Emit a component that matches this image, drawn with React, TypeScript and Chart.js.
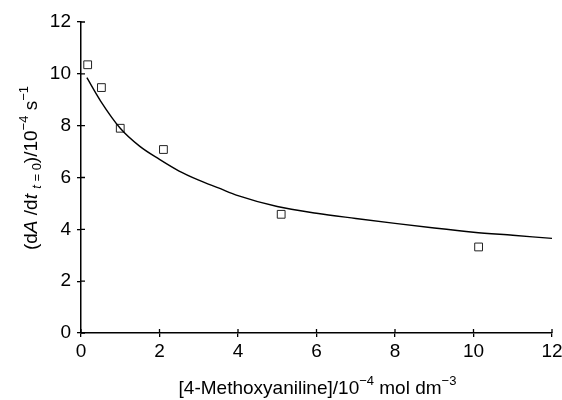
import React, { useEffect, useRef } from "react";
import { Chart, registerables } from "chart.js";

Chart.register(...registerables);

// Measured data points (open squares)
const pointX = [0.17, 0.52, 1.0, 2.1, 5.1, 10.13];
const pointY = [10.35, 9.47, 7.9, 7.08, 4.58, 3.32];

// Fitted curve
const curveX = [0.15, 0.5, 1, 1.5, 2, 2.5, 3, 3.5, 4, 5, 6, 7, 8, 9, 10, 11, 12];
const curveY = [9.85, 8.95, 7.9, 7.2, 6.7, 6.25, 5.9, 5.6, 5.3, 4.88, 4.62, 4.42, 4.23, 4.05, 3.89, 3.77, 3.65];

const xTicks = [0, 2, 4, 6, 8, 10, 12];
const yTicks = [0, 2, 4, 6, 8, 10, 12];

const FONT = "'Liberation Sans', Arial, Helvetica, sans-serif";

type Seg = { t: string; italic?: boolean; sup?: boolean; sub?: boolean };

const xTitle: Seg[] = [
  { t: "[4-Methoxyaniline]/10" },
  { t: "\u22124", sup: true },
  { t: " mol dm" },
  { t: "\u22123", sup: true },
];

const yTitle: Seg[] = [
  { t: "(d" },
  { t: "A", italic: true },
  { t: " /d" },
  { t: "t", italic: true },
  { t: " " },
  { t: "t", italic: true, sub: true },
  { t: " = 0", sub: true },
  { t: ")/10" },
  { t: "\u22124", sup: true },
  { t: " s" },
  { t: "\u22121", sup: true },
];

function segFont(s: Seg, base: number) {
  const size = s.sup || s.sub ? Math.round(base * 0.68) : base;
  return `${s.italic ? "italic " : ""}${size}px ${FONT}`;
}

function drawRich(ctx: CanvasRenderingContext2D, segs: Seg[], base: number) {
  let total = 0;
  for (const s of segs) {
    ctx.font = segFont(s, base);
    total += ctx.measureText(s.t).width;
  }
  let x = -total / 2;
  ctx.textAlign = "left";
  ctx.textBaseline = "alphabetic";
  for (const s of segs) {
    ctx.font = segFont(s, base);
    const dy = s.sup ? -base * 0.45 : s.sub ? base * 0.22 : 0;
    ctx.fillText(s.t, x, dy);
    x += ctx.measureText(s.t).width;
  }
}

const extrasPlugin = {
  id: "extras",
  afterDraw(chart: any) {
    const ctx: CanvasRenderingContext2D = chart.ctx;
    const xs = chart.scales.x;
    const ys = chart.scales.y;
    const area = chart.chartArea;
    ctx.save();
    ctx.strokeStyle = "#000";
    ctx.lineWidth = 1.3;
    // inner halves of tick marks
    ctx.beginPath();
    for (const v of xTicks) {
      const px = xs.getPixelForValue(v);
      ctx.moveTo(px, area.bottom);
      ctx.lineTo(px, area.bottom - 4);
    }
    for (const v of yTicks) {
      const py = ys.getPixelForValue(v);
      ctx.moveTo(area.left, py);
      ctx.lineTo(area.left + 4, py);
    }
    ctx.stroke();

    ctx.fillStyle = "#000";
    // x title
    ctx.save();
    ctx.translate((area.left + area.right) / 2 + 1, 394);
    drawRich(ctx, xTitle, 19);
    ctx.restore();
    // y title
    ctx.save();
    ctx.translate(37, 168);
    ctx.rotate(-Math.PI / 2);
    drawRich(ctx, yTitle, 19);
    ctx.restore();
    ctx.restore();
  },
};

export default function App() {
  const ref = useRef<HTMLCanvasElement | null>(null);
  useEffect(() => {
    if (!ref.current) return;
    const chart = new Chart(ref.current, {
      type: "scatter",
      data: {
        datasets: [
          {
            type: "line",
            data: curveX.map((x, i) => ({ x, y: curveY[i] })),
            borderColor: "#000",
            borderWidth: 1.4,
            pointRadius: 0,
            fill: false,
            cubicInterpolationMode: "monotone",
          } as any,
          {
            data: pointX.map((x, i) => ({ x, y: pointY[i] })),
            pointStyle: "rect",
            pointRadius: 5.5,
            pointBorderWidth: 1,
            pointBorderColor: "#222",
            pointBackgroundColor: "#fff",
            showLine: false,
          } as any,
        ],
      },
      options: {
        animation: false,
        responsive: false,
        layout: { padding: { top: 22, right: 10, left: 0, bottom: 0 } },
        plugins: { legend: { display: false }, tooltip: { enabled: false } },
        scales: {
          x: {
            type: "linear",
            min: 0,
            max: 12,
            afterFit: (s: any) => {
              s.height = 67;
              s.paddingLeft = 0;
              s.paddingRight = 0;
            },
            afterBuildTicks: (s: any) => {
              s.ticks = xTicks.map((v) => ({ value: v }));
            },
            grid: { display: true, drawOnChartArea: false, drawTicks: true, tickLength: 4, color: "#000", lineWidth: 1.3 },
            border: { display: true, color: "#000", width: 1.5 },
            ticks: { color: "#000", font: { family: FONT, size: 19 }, padding: 3, maxRotation: 0 },
          },
          y: {
            type: "linear",
            min: 0,
            max: 12,
            afterFit: (s: any) => {
              s.width = 81;
              s.paddingTop = 0;
              s.paddingBottom = 0;
            },
            afterBuildTicks: (s: any) => {
              s.ticks = yTicks.map((v) => ({ value: v }));
            },
            grid: { display: true, drawOnChartArea: false, drawTicks: true, tickLength: 4, color: "#000", lineWidth: 1.3 },
            border: { display: true, color: "#000", width: 1.5 },
            ticks: { color: "#000", font: { family: FONT, size: 19 }, padding: 6 },
          },
        },
      },
      plugins: [extrasPlugin],
    });
    return () => chart.destroy();
  }, []);
  return (
    <div style={{ position: "absolute", left: 0, top: 0, width: 562, height: 400, background: "#fff" }}>
      <canvas ref={ref} width={562} height={400} />
    </div>
  );
}
